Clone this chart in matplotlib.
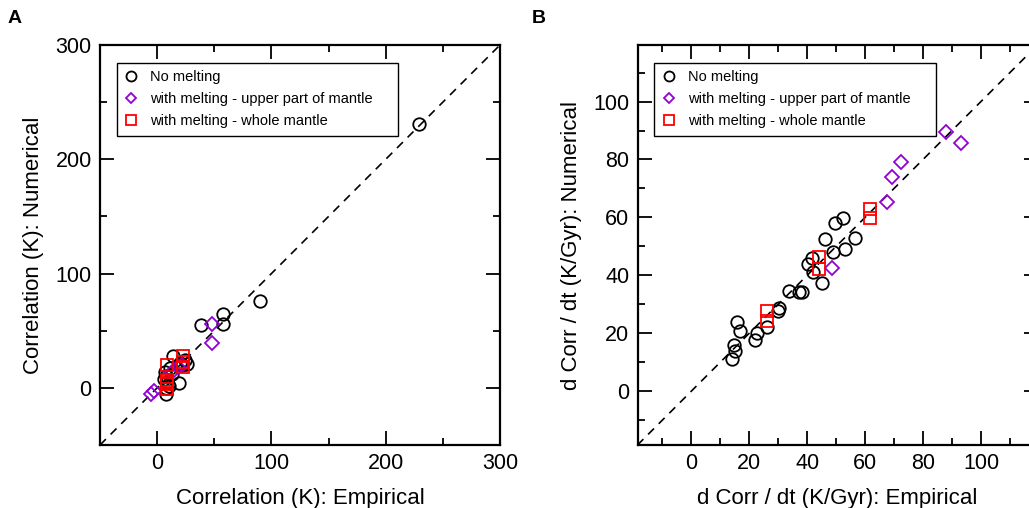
import numpy as np
import matplotlib
matplotlib.use('Agg')
import matplotlib.pyplot as plt
from matplotlib.ticker import MultipleLocator

plt.rcParams['font.family'] = ['Liberation Sans', 'DejaVu Sans']

# Panel A: correlation (K), empirical vs numerical
a_none_x = [229, 90, 58, 58, 38, 14, 26, 22, 19, 8, 7, 8, 9, 10, 8, 6, 11, 13, 20, 24]
a_none_y = [231, 76, 65, 56, 55, 28, 21, 20, 4, -5, 14, 10, 5, 2, 0, 8, 17, 12, 22, 24]
a_upper_x = [48, 48, -5, -3, 18, 13, 22]
a_upper_y = [56, 39, -5, -3, 18, 14, 20]
a_whole_x = [9, 23, 23, 23, 9, 9, 9, 9]
a_whole_y = [20, 28, 23, 18, 7, 3, -1, 5]

# Panel B: d Corr / dt (K/Gyr), empirical vs numerical
b_none_x = [52.3, 49.6, 46.1, 56.5, 53.1, 49.1, 40.4, 41.6, 41.9, 45.0, 38.1, 37.3,
            33.8, 30.4, 29.9, 26.1, 22.7, 21.9, 15.9, 16.7, 14.9, 15.1, 14.2]
b_none_y = [59.7, 58.2, 52.5, 52.8, 49.0, 48.2, 43.9, 45.9, 41.3, 37.5, 34.2, 34.4,
            34.6, 28.7, 27.7, 22.2, 20.2, 17.6, 24.0, 21.0, 16.0, 14.0, 11.3]
b_upper_x = [88.0, 93.0, 72.4, 69.2, 67.5, 48.5]
b_upper_y = [89.6, 85.6, 79.2, 74.1, 65.4, 42.7]
b_whole_x = [61.7, 61.7, 44.2, 44.2, 26.3, 26.3]
b_whole_y = [62.8, 59.7, 46.3, 42.1, 27.8, 24.4]

labels = ['No melting', 'with melting - upper part of mantle', 'with melting - whole mantle']
purple = '#9400d3'

fig = plt.figure(figsize=(10.29, 5.08), dpi=100)
axA = fig.add_axes([100 / 1029, 63 / 508, 400 / 1029, 400 / 508])
axB = fig.add_axes([637.5 / 1029, 63 / 508, 400 / 1029, 400 / 508])


def panel(ax, nx, ny, ux, uy, wx, wy, lim, major, minor, xlabel, ylabel):
    ax.plot(lim, lim, color='black', ls=(0, (5, 4)), lw=1.2, zorder=1)
    ax.plot(nx, ny, ls='none', marker='o', ms=9, mfc='none', mec='black', mew=1.3, label=labels[0])
    ax.plot(ux, uy, ls='none', marker='D', ms=7, mfc='none', mec=purple, mew=1.3, label=labels[1])
    ax.plot(wx, wy, ls='none', marker='s', ms=8.5, mfc='none', mec='red', mew=1.3, label=labels[2])
    ax.set_xlim(lim)
    ax.set_ylim(lim)
    for axis in (ax.xaxis, ax.yaxis):
        axis.set_major_locator(MultipleLocator(major))
        axis.set_minor_locator(MultipleLocator(minor))
    ax.tick_params(which='both', direction='in', top=True, right=True, width=1.3, labelsize=15.5, pad=6)
    ax.tick_params(which='major', length=10)
    ax.tick_params(which='minor', length=5)
    for s in ax.spines.values():
        s.set_linewidth(1.6)
    ax.set_xlabel(xlabel, fontsize=16, labelpad=10)
    ax.set_ylabel(ylabel, fontsize=16, labelpad=8)
    leg = ax.legend(loc='upper left', bbox_to_anchor=(0.042, 0.955, 0.703, 0), mode='expand',
                    fontsize=10.5, frameon=True, fancybox=False, framealpha=1, edgecolor='black',
                    markerscale=0.8, handlelength=1.0, handletextpad=0.8,
                    labelspacing=0.55, borderpad=0.5, borderaxespad=0)
    leg.get_frame().set_linewidth(1.0)


panel(axA, a_none_x, a_none_y, a_upper_x, a_upper_y, a_whole_x, a_whole_y,
      [-50, 300], 100, 50, 'Correlation (K): Empirical', 'Correlation (K): Numerical')
panel(axB, b_none_x, b_none_y, b_upper_x, b_upper_y, b_whole_x, b_whole_y,
      [-18.5, 119.5], 20, 10, 'd Corr / dt (K/Gyr): Empirical', 'd Corr / dt (K/Gyr): Numerical')

fig.text(8 / 1029, 1 - 23 / 508, 'A', fontsize=14, fontweight='bold', va='baseline')
fig.text(532 / 1029, 1 - 23 / 508, 'B', fontsize=14, fontweight='bold', va='baseline')

fig.savefig('out.png', dpi=100)
